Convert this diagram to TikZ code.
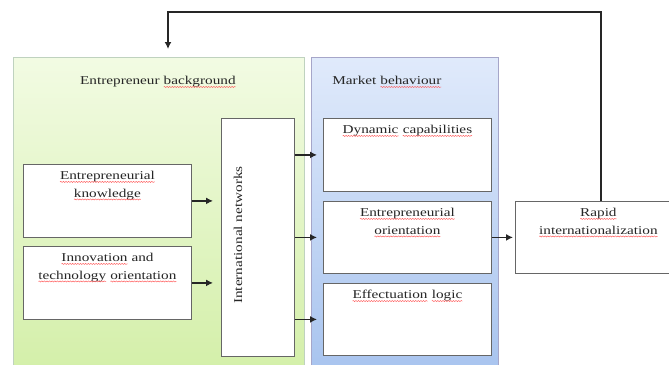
\documentclass[tikz,border=0pt]{standalone}
\usepackage{fontspec}
\setmainfont{Liberation Serif}
\newfontfamily\widefont[FakeStretch=1.27]{Liberation Serif}
\usetikzlibrary{arrows.meta,decorations.pathmorphing}
% spell-check style wavy red underline
\newcommand\spl[1]{\tikz[baseline=(sw.base),x=1cm,y=1cm]{%
  \node[inner sep=0pt,outer sep=0pt] (sw) {#1};
  \draw[red!65!white, line width=0.45pt, decorate,
        decoration={snake, amplitude=0.55pt, segment length=2.6pt}]
    ([yshift=-2.4pt]sw.base west) -- ([yshift=-2.4pt]sw.base east);}}
\definecolor{greentop}{HTML}{F2FBE3}
\definecolor{greenbot}{HTML}{D3EFA8}
\definecolor{bluetop}{HTML}{E0EAFB}
\definecolor{bluebot}{HTML}{A7C3EE}
\tikzset{
  panel/.style={anchor=north west, inner sep=0pt},
  paneltitle/.style={anchor=center, inner sep=0pt, text=black!85, font=\widefont\fontsize{12}{14}\selectfont},
  box/.style={draw=black!60, line width=0.8pt, fill=white, anchor=north west, inner sep=0pt},
  boxtext/.style={anchor=north, align=center, inner sep=0pt, text=black!85, font=\widefont\fontsize{12}{17.5}\selectfont},
  flow/.style={line width=1.8pt, black!85, -{Latex[length=7pt,width=7pt]}},
}
\begin{document}
\begin{tikzpicture}[x=1pt,y=-1pt]
\useasboundingbox (0,0) rectangle (669,364);
% panels
\node[panel, minimum width=291, minimum height=320, top color=greentop, bottom color=greenbot, draw=green!30!black!25] (bg) at (13,57) {};
\node[panel, minimum width=187, minimum height=320, top color=bluetop, bottom color=bluebot, draw=blue!40!black!35] (mb) at (311,57) {};
\node[paneltitle] (bgt) at (158,82) {Entrepreneur \spl{background}};
\node[paneltitle] (mbt) at (387,82) {Market \spl{behaviour}};
% entrepreneur background boxes
\node[box, minimum width=168, minimum height=73] (ek) at (23,164) {};
\node[boxtext] (ekt) at ([yshift=-7]ek.north) {\spl{Entrepreneurial}\\\spl{knowledge}};
\node[box, minimum width=168, minimum height=73] (it) at (23,246) {};
\node[boxtext] (itt) at ([yshift=-7]it.north) {\spl{Innovation} and\\\spl{technology} \spl{orientation}};
\node[box, minimum width=73, minimum height=238] (in) at (221,118) {};
\node[rotate=90, inner sep=0pt, text=black!85, font=\widefont\fontsize{12}{14}\selectfont] (int) at (238,235) {International networks};
% market behaviour boxes
\node[box, minimum width=168, minimum height=73] (dc) at (323,118) {};
\node[boxtext] (dct) at ([yshift=-7]dc.north) {\spl{Dynamic} \spl{capabilities}};
\node[box, minimum width=168, minimum height=72] (eo) at (323,201) {};
\node[boxtext] (eot) at ([yshift=-7]eo.north) {\spl{Entrepreneurial}\\\spl{orientation}};
\node[box, minimum width=168, minimum height=72] (el) at (323,283) {};
\node[boxtext] (elt) at ([yshift=-7]el.north) {\spl{Effectuation} \spl{logic}};
% outcome
\node[box, minimum width=166, minimum height=72] (ri) at (515,201) {};
\node[boxtext] (rit) at ([yshift=-7]ri.north) {\spl{Rapid}\\\spl{internationalization}};
% arrows
\draw[flow, shorten >=8pt] (ek.east) -- (ek.east -| in.west);
\draw[flow, shorten >=8pt] (it.east) -- (it.east -| in.west);
\draw[flow, shorten >=6pt] (in.east |- dc.center) -- (dc.west);
\draw[flow, shorten >=6pt] (in.east |- eo.center) -- (eo.west);
\draw[flow, shorten >=6pt] (in.east |- el.center) -- (el.west);
\draw[flow, shorten >=2pt] (eo.east) -- (ri.west);
% feedback loop
\coordinate (fb1) at (601,12);
\coordinate (fb2) at (168,12);
\coordinate (fb3) at (168,49);
\draw[flow] (ri.north -| fb1) -- (fb1) -- (fb2) -- (fb3);
\end{tikzpicture}
\end{document}
